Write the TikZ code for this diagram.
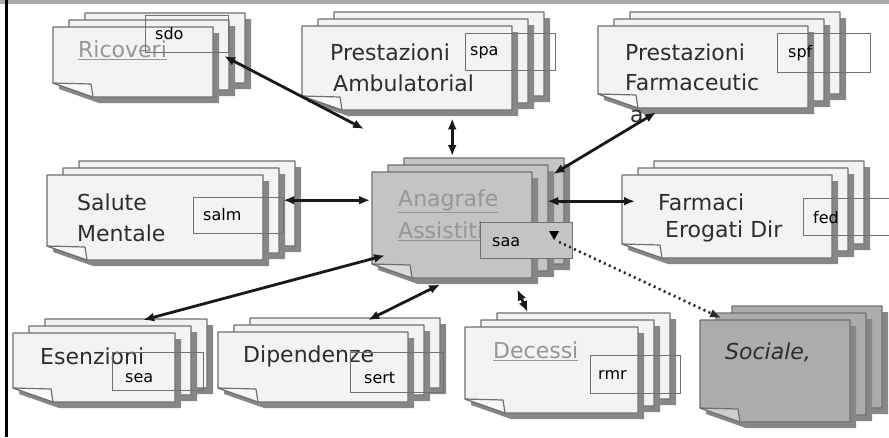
\documentclass[tikz,border=0pt]{standalone}
\usepackage{fontspec}
\setmainfont{DejaVu Sans}
\usepackage{tikz}
\usetikzlibrary{positioning,calc,arrows.meta}
\definecolor{pagefill}{RGB}{243,243,243}
\definecolor{pageedge}{RGB}{112,112,112}
\definecolor{shadowgray}{RGB}{135,135,135}
\definecolor{anafill}{RGB}{196,196,196}
\definecolor{socfill}{RGB}{172,172,172}
\definecolor{linkgray}{RGB}{150,150,150}
\definecolor{darktext}{RGB}{45,45,45}
\definecolor{barfill}{RGB}{170,170,170}

\tikzset{
  pagebox/.style={draw=pageedge,line width=1.2pt,line join=round},
  stacktext/.style={anchor=west,font=\fontsize{22}{24}\selectfont,text=darktext,inner sep=0pt},
  linktext/.style={stacktext,text=linkgray},
  tagbox/.style={draw=pageedge,line width=1.1pt,inner sep=0pt,anchor=north west},
  tagtext/.style={anchor=west,font=\fontsize{16}{18}\selectfont,text=black,inner sep=0pt},
  link/.style={line width=2.8pt,draw=black!90,{Latex[length=11pt,width=9pt]}-{Latex[length=11pt,width=9pt]}},
  dotlink/.style={line width=2.6pt,draw=black!85,dash pattern=on 2pt off 3.5pt,-{Latex[length=11pt,width=9pt]}},
}

% name, left, top, right, bottom, fill
\newcommand{\docstack}[6]{%
  \foreach \dx/\dy in {32/14,16/7,0/0}{%
    \fill[shadowgray] (#2+\dx+6,#3-\dy+6) -- (#4+\dx+6,#3-\dy+6) -- (#4+\dx+6,#5-\dy+6)
      -- (#2+\dx+46,#5-\dy+6) -- (#2+\dx+6,#5-\dy-8) -- cycle;
    \filldraw[pagebox,fill=#6] (#2+\dx,#3-\dy) -- (#4+\dx,#3-\dy) -- (#4+\dx,#5-\dy)
      -- (#2+\dx+40,#5-\dy) -- (#2+\dx,#5-\dy-14) -- cycle;
  }
  \filldraw[pagebox,fill=#6!60!white] (#2,#5-14) -- (#2+38,#5-13) -- (#2+40,#5) -- cycle;
  \node[inner sep=0pt,minimum width={(#4-#2)*1pt},minimum height={(#5-#3)*1pt},anchor=north west] (#1) at (#2,#3) {};
}

\begin{document}
\begin{tikzpicture}[x=1pt,y=-1pt]
  \useasboundingbox (0,0) rectangle (889,437);
  \fill[white] (0,0) rectangle (889,437);
  \fill[barfill] (0,0) rectangle (889,4);
  \fill[black] (5,0) rectangle (7.5,437);

  % stacks of pages
  \docstack{ricoveri}{53}{27}{213}{97}{pagefill}
  \docstack{ambul}{302}{26}{512}{110}{pagefill}
  \docstack{farmac}{598}{26}{808}{108}{pagefill}
  \docstack{salute}{47}{175}{263}{260}{pagefill}
  \docstack{anagrafe}{372}{172}{532}{278}{anafill}
  \docstack{farmaci}{622}{175}{832}{258}{pagefill}
  \docstack{esenz}{13}{333}{175}{402}{pagefill}
  \docstack{dipend}{218}{332}{408}{402}{pagefill}
  \docstack{decessi}{465}{327}{638}{413}{pagefill}
  \docstack{sociale}{700}{320}{850}{422}{socfill}

  % titles
  \node[linktext] (ricoveri-t) at (78,50) {\underline{Ricoveri}};
  \node[stacktext] (ambul-t1) at (330,52) {Prestazioni};
  \node[stacktext] (ambul-t2) at (333,83) {Ambulatorial};
  \node[stacktext] (farmac-t1) at (625,52) {Prestazioni};
  \node[stacktext] (farmac-t2) at (625,82) {Farmaceutic};
  \node[stacktext] (farmac-t3) at (630,116) {a};
  \node[stacktext] (salute-t1) at (77,202) {Salute};
  \node[stacktext] (salute-t2) at (77,233) {Mentale};
  \node[linktext] (anagrafe-t1) at (398,201) {\underline{Anagrafe}};
  \node[linktext] (anagrafe-t2) at (398,231) {\underline{Assistiti}};
  \node[stacktext] (farmaci-t1) at (658,202) {Farmaci};
  \node[stacktext] (farmaci-t2) at (665,231) {Erogati Dir};
  \node[stacktext] (esenz-t) at (40,356) {Esenzioni};
  \node[stacktext] (dipend-t) at (243,356) {Dipendenze};
  \node[linktext] (decessi-t) at (493,351) {\underline{Decessi}};
  \node[stacktext,font=\fontsize{22}{24}\selectfont\itshape] (sociale-t) at (725,352) {Sociale,};

  % table tags
  \node[tagbox,minimum width=83pt,minimum height=37pt] (sdo) at (145,15) {};
  \node[tagbox,minimum width=90pt,minimum height=37pt] (spa) at (465,33) {};
  \node[tagbox,minimum width=93pt,minimum height=39pt] (spf) at (777,33) {};
  \node[tagbox,minimum width=90pt,minimum height=36pt] (salm) at (193,197) {};
  \node[tagbox,fill=anafill,minimum width=92pt,minimum height=36pt] (saa) at (480,222) {};
  \node[tagbox,minimum width=86pt,minimum height=37pt] (fed) at (803,198) {};
  \node[tagbox,minimum width=91pt,minimum height=38pt] (sea) at (112,352) {};
  \node[tagbox,minimum width=93pt,minimum height=40pt] (sert) at (350,352) {};
  \node[tagbox,minimum width=90pt,minimum height=38pt] (rmr) at (590,355) {};
  \node[tagtext] at (155,34) {sdo};
  \node[tagtext] at (470,53) {spa};
  \node[tagtext] at (788,53) {spf};
  \node[tagtext] at (203,215) {salm};
  \node[tagtext] at (492,242) {saa};
  \node[tagtext] at (813,218) {fed};
  \node[tagtext] at (125,378) {sea};
  \node[tagtext] at (364,378) {sert};
  \node[tagtext] at (598,375) {rmr};

  % links to the central register
  \draw[link] ($(sdo.south east)+(-5,3)$) -- ($(anagrafe.north west)+(-8,-43)$);
  \draw[link] ($(ambul.south -| anagrafe.north)+(0,8)$) -- ($(anagrafe.north)+(0,-16)$);
  \draw[link] ($(farmac.south west)+(58,4)$) -- ($(anagrafe.north east)+(21,2)$);
  \draw[link] ($(salute.east)+(20,-17.5)$) -- ($(anagrafe.west)+(-2,-25)$);
  \draw[link] ($(anagrafe.east)+(15,-24)$) -- ($(farmaci.west)+(13,-15.5)$);
  \draw[link] ($(esenz.north)+(49,-13)$) -- ($(anagrafe.south west)+(13,-23)$);
  \draw[link] ($(dipend.north)+(55,-12)$) -- ($(anagrafe.south)+(-12,6)$);
  \draw[link] ($(anagrafe.south)+(65,11)$) -- ($(decessi.north)+(-24,-15)$);
  \fill ($(saa.north east)+(-24,9)$) -- ++(10,0) -- ++(-5,9) -- cycle;
  \draw[dotlink] ($(saa.north east)+(-14,20)$) -- ($(sociale.north west)+(21,-2)$);
\end{tikzpicture}
\end{document}
